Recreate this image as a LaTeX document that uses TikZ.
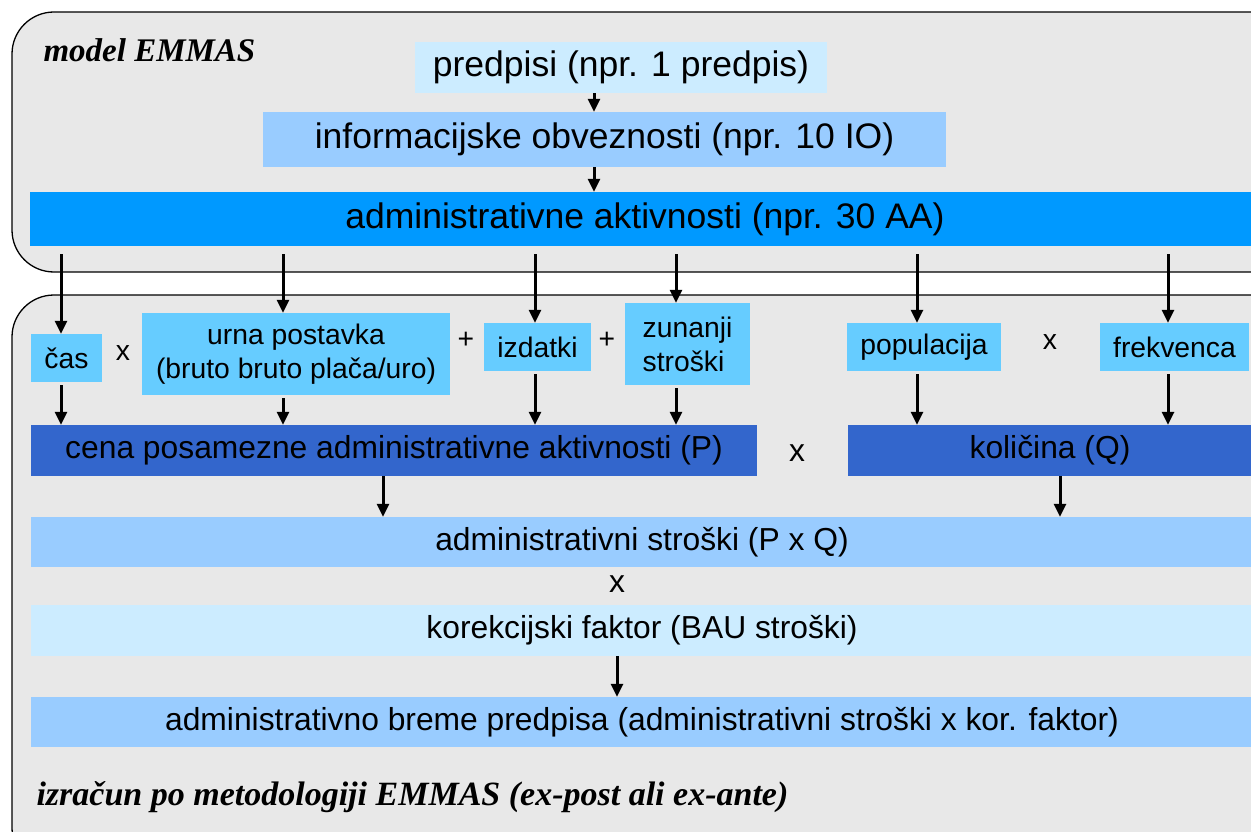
\documentclass[tikz,border=0pt]{standalone}
\usepackage{fontspec}
\setmainfont{Liberation Sans}
\newfontfamily\labelfont{Liberation Serif}
\usetikzlibrary{arrows.meta}

\definecolor{panelgray}{HTML}{E8E8E8}
\definecolor{palebox}{HTML}{CCECFF}
\definecolor{midbox}{HTML}{99CCFF}
\definecolor{aabox}{HTML}{0099FF}
\definecolor{smallbox}{HTML}{66CCFF}
\definecolor{darkbox}{HTML}{3366CC}

\newcommand\bigtxt{\fontsize{35.5}{40}\selectfont}
\newcommand\midtxt{\fontsize{31.8}{36}\selectfont}
\newcommand\smalltxt{\fontsize{28.3}{34}\selectfont}

\begin{document}
\begin{tikzpicture}[x=1pt,y=-1pt,
	box/.style={inner sep=0pt, text=black, align=center},
	arr/.style={line width=3pt, -{Triangle[length=13pt,width=12pt]}},
	panel/.style={draw=black, line width=1.3pt, fill=panelgray, rounded corners=42pt},
	op/.style={font=\smalltxt}]
	\useasboundingbox (0,0) rectangle (1251,832);
	\clip (0,0) rectangle (1251,832);

	% the two panels
	\draw[panel] (12,12) rectangle (1300,272);
	\draw[panel] (12,295) rectangle (1300,870);
	\node[anchor=west, font=\labelfont\bfseries\itshape\fontsize{33}{36}\selectfont] (mtitle) at (40,50) {model EMMAS};
	\node[anchor=west, font=\labelfont\bfseries\itshape\fontsize{34}{38}\selectfont] (ititle) at (33,797) {izra\v{c}un po metodologiji EMMAS (ex-post ali ex-ante)};

	% model EMMAS
	\node[box, fill=palebox, minimum width=412pt, minimum height=51pt, font=\bigtxt] (pred) at (621,67.5) {predpisi (npr. 1 predpis)};
	\node[box, fill=midbox, minimum width=683pt, minimum height=55pt, font=\bigtxt] (io) at (604.5,139.5) {informacijske obveznosti (npr. 10 IO)};
	\node[box, fill=aabox, minimum width=1230pt, minimum height=54pt, font=\bigtxt] (aa) at (645,219) {administrativne aktivnosti (npr. 30 AA)};
	\coordinate (c0) at (594,0);
	\draw[arr] (c0 |- pred.south) -- (c0 |- io.north);
	\draw[arr] (c0 |- io.south) -- (c0 |- aa.north);

	% inputs
	\node[box, fill=smallbox, minimum width=71pt, minimum height=48pt, font=\smalltxt] (cas) at (66.5,358) {\v{c}as};
	\node[op] (x1) at (123,353) {x};
	\node[box, fill=smallbox, minimum width=308pt, minimum height=82pt, font=\smalltxt] (urna) at (296,354) {urna postavka\\(bruto bruto pla\v{c}a/uro)};
	\node[op] (plus1) at (466,340) {+};
	\node[box, fill=smallbox, minimum width=107pt, minimum height=48pt, font=\smalltxt] (izd) at (537.5,347) {izdatki};
	\node[op] (plus2) at (607,340) {+};
	\node[box, fill=smallbox, minimum width=125pt, minimum height=82pt, font=\smalltxt, align=left] (zun) at (687.5,344) {zunanji\\stro\v{s}ki};
	\node[box, fill=smallbox, minimum width=154pt, minimum height=48pt, font=\smalltxt] (pop) at (924,347) {populacija};
	\node[op] (x2) at (1050,342) {x};
	\node[box, fill=smallbox, minimum width=149pt, minimum height=48pt, font=\smalltxt] (frek) at (1174.5,347) {frekvenca};

	% price and quantity
	\node[box, fill=darkbox, minimum width=726pt, minimum height=51pt, font=\midtxt] (cena) at (394,450.5) {cena posamezne administrativne aktivnosti (P)};
	\node[op, font=\midtxt] (x3) at (797,453) {x};
	\node[box, fill=darkbox, minimum width=404pt, minimum height=51pt, font=\midtxt] (kol) at (1050,450.5) {koli\v{c}ina (Q)};

	% result rows
	\node[box, fill=midbox, minimum width=1222pt, minimum height=50pt, font=\midtxt] (pq) at (642,542) {administrativni stro\v{s}ki (P x Q)};
	\node[op, font=\midtxt] (x4) at (617,584) {x};
	\node[box, fill=palebox, minimum width=1222pt, minimum height=51pt, font=\midtxt] (kor) at (642,630.5) {korekcijski faktor (BAU stro\v{s}ki)};
	\node[box, fill=midbox, minimum width=1222pt, minimum height=50pt, font=\midtxt] (breme) at (642,722) {administrativno breme predpisa (administrativni stro\v{s}ki x kor. faktor)};

	% arrow columns
	\coordinate (c1) at (61,254);
	\coordinate (c2) at (283,254);
	\coordinate (c3) at (535,254);
	\coordinate (c4) at (676,254);
	\coordinate (c5) at (917,254);
	\coordinate (c6) at (1168,254);
	\draw[arr] (c1) -- (c1 |- cas.north);
	\draw[arr] (c2) -- (c2 |- urna.north);
	\draw[arr] (c3) -- (c3 |- izd.north);
	\draw[arr] (c4) -- (c4 |- zun.north);
	\draw[arr] (c5) -- (c5 |- pop.north);
	\draw[arr] (c6) -- (c6 |- frek.north);
	\draw[arr] ([yshift=-3pt]c1 |- cas.south) -- (c1 |- cena.north);
	\draw[arr] ([yshift=-3pt]c2 |- urna.south) -- (c2 |- cena.north);
	\draw[arr] ([yshift=-3pt]c3 |- izd.south) -- (c3 |- cena.north);
	\draw[arr] ([yshift=-3pt]c4 |- zun.south) -- (c4 |- cena.north);
	\draw[arr] ([yshift=-3pt]c5 |- pop.south) -- (c5 |- kol.north);
	\draw[arr] ([yshift=-3pt]c6 |- frek.south) -- (c6 |- kol.north);
	\coordinate (c7) at (383,0);
	\coordinate (c8) at (1060,0);
	\coordinate (c9) at (617,0);
	\draw[arr] (c7 |- cena.south) -- (c7 |- pq.north);
	\draw[arr] (c8 |- kol.south) -- (c8 |- pq.north);
	\draw[arr] (c9 |- kor.south) -- (c9 |- breme.north);
\end{tikzpicture}
\end{document}
